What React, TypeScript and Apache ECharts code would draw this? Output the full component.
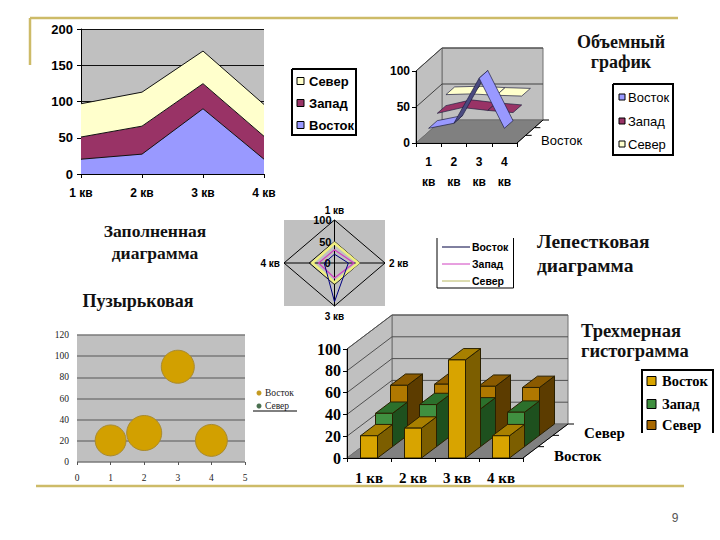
import React, { useEffect, useRef } from "react";
import * as echarts from "echarts";

const quarters = ["1 кв", "2 кв", "3 кв", "4 кв"];
const east = [20.4, 27.4, 90, 20.4];
const west = [30.6, 38.6, 34.6, 31.6];
const north = [45.9, 46.9, 45, 43.9];
const bubbleX = [1, 2, 3, 4];
const bubbleSizes = [31, 35, 33, 32];
const radarLevels = [100, 50];

const SANS = "'Liberation Sans', Arial, sans-serif";
const SERIF = "'Liberation Serif', 'Times New Roman', serif";
const GOLD = "#CDBB68";
const WALL = "#C0C0C0";
const FLOOR = "#808080";

const poly = (points: number[][], fill: string, stroke = "#000", lineWidth = 1) => ({
  type: "polygon",
  shape: { points },
  style: { fill, stroke, lineWidth },
});
const pline = (points: number[][], stroke = "#000", lineWidth = 1) => ({
  type: "polyline",
  shape: { points },
  style: { fill: "none", stroke, lineWidth },
});
const txt = (
  x: number,
  y: number,
  text: string,
  font: string,
  align = "left",
  fill = "#000"
) => ({
  type: "text",
  x,
  y,
  style: { text, font, fill, textAlign: align, align, textVerticalAlign: "middle", verticalAlign: "middle" },
});

// Walls, floor and wall grid of a 3D box whose front plane is the cartesian grid
const walls = (levels: number[], top: number, dx: number, dy: number, bands: number, gridColor: string) =>
  (_p: any, api: any) => {
    const c0 = api.coord([0, 0]);
    const c3 = api.coord([3, 0]);
    const half = (c3[0] - c0[0]) / 6;
    const l = c0[0] - half;
    const r = c3[0] + half;
    const b = c0[1];
    const t = api.coord([0, top])[1];
    const kids: any[] = [
      poly([[l + dx, b + dy], [r + dx, b + dy], [r + dx, t + dy], [l + dx, t + dy]], WALL, "#707070"),
      poly([[l, b], [l + dx, b + dy], [l + dx, t + dy], [l, t]], WALL, "#707070"),
      poly([[l, b], [r, b], [r + dx, b + dy], [l + dx, b + dy]], FLOOR, "#707070"),
    ];
    levels.forEach((v) => {
      const y = api.coord([0, v])[1];
      kids.push(pline([[l, y], [l + dx, y + dy], [r + dx, y + dy]], gridColor));
    });
    kids.push(pline([[r, b], [r + dx, b + dy]], "#000"));
    for (let i = 1; i <= bands; i++) {
      const px = r + (dx * i) / bands;
      const py = b + (dy * i) / bands;
      kids.push(pline([[px, py], [px + 6, py]], "#000"));
    }
    return { type: "group", children: kids };
  };

const ribbon = (depth: number, color: string, dark: string, dx: number, dy: number) =>
  (_p: any, api: any) => {
    const a = api.coord([api.value(0), api.value(1)]);
    const b = api.coord([api.value(0) + 1, api.value(2)]);
    const fill = api.value(2) - api.value(1) > 20 ? dark : color;
    return poly(
      [
        [a[0] + dx * depth, a[1] + dy * depth],
        [b[0] + dx * depth, b[1] + dy * depth],
        [b[0] + dx * (depth + 1), b[1] + dy * (depth + 1)],
        [a[0] + dx * (depth + 1), a[1] + dy * (depth + 1)],
      ],
      fill,
      "#202040",
      0.7
    );
  };

const bar3d = (depth: number, front: string, topC: string, side: string, dx: number, dy: number, hw: number) =>
  (_p: any, api: any) => {
    const t = api.coord([api.value(0), api.value(1)]);
    const b = api.coord([api.value(0), 0]);
    const ox = dx * depth;
    const oy = dy * depth;
    const l = t[0] - hw + ox;
    const r = t[0] + hw + ox;
    const ty = t[1] + oy;
    const by = b[1] + oy;
    const s = "#2a2000";
    return {
      type: "group",
      children: [
        poly([[r, by], [r + dx, by + dy], [r + dx, ty + dy], [r, ty]], side, s),
        poly([[l, ty], [r, ty], [r + dx, ty + dy], [l + dx, ty + dy]], topC, s),
        poly([[l, by], [r, by], [r, ty], [l, ty]], front, s),
      ],
    };
  };

const radarWeb = (_p: any, api: any) => {
  const pt = (q: number, v: number) =>
    api.coord([[0, v, 0, -v][q], [v, 0, -v, 0][q]]);
  const kids: any[] = [
    pline([pt(0, 100), pt(2, 100)]),
    pline([pt(3, 100), pt(1, 100)]),
  ];
  radarLevels.forEach((v) => {
    kids.push(poly([pt(0, v), pt(1, v), pt(2, v), pt(3, v)], "none", "#000", 1));
  });
  const f = `bold 10px ${SANS}`;
  kids.push(txt(pt(0, 100)[0], pt(0, 100)[1] - 10, quarters[0], f, "center"));
  kids.push(txt(pt(1, 100)[0] + 4, pt(1, 100)[1], quarters[1], f, "left"));
  kids.push(txt(pt(2, 100)[0], pt(2, 100)[1] + 10, quarters[2], f, "center"));
  kids.push(txt(pt(3, 100)[0] - 4, pt(3, 100)[1], quarters[3], f, "right"));
  const g = `bold 11px ${SANS}`;
  kids.push(txt(pt(0, 100)[0] - 3, pt(0, 100)[1], "100", g, "right"));
  kids.push(txt(pt(0, 50)[0] - 3, pt(0, 50)[1], "50", g, "right"));
  kids.push(txt(pt(0, 0)[0] - 4, pt(0, 0)[1], "0", g, "right"));
  return { type: "group", children: kids };
};

const radarLine = (values: number[], color: string, width: number) => (_p: any, api: any) => {
  const pts = values.map((v, q) => api.coord([[0, v, 0, -v][q], [v, 0, -v, 0][q]]));
  return poly(pts, "none", color, width);
};

const boxLegend = (
  pts: number[][],
  items: { name: string; color: string; y: number }[],
  swatchX: number,
  size: number,
  textX: number,
  font: string
) => [
  { type: "polyline", shape: { points: pts }, style: { fill: "#fff", stroke: "#000", lineWidth: 2 } },
  ...items.flatMap((it) => [
    {
      type: "rect",
      shape: { x: swatchX, y: it.y - size / 2, width: size, height: size },
      style: { fill: it.color, stroke: "#000", lineWidth: 1 },
    },
    txt(textX, it.y, it.name, font),
  ]),
];

const hLine = (x1: number, y1: number, x2: number, y2: number) => ({
  type: "line",
  shape: { x1, y1, x2, y2 },
  style: { stroke: GOLD, lineWidth: 2.5 },
});

const title = (x: number, y: number, text: string, size: number, align = "center") =>
  txt(x, y, text, `bold ${size}px ${SERIF}`, align, "#111");

function buildOption(): any {
  const axisLineBlack = { show: true, lineStyle: { color: "#000", width: 1 } };
  const tick = { show: true, length: 4, lineStyle: { color: "#000" } };
  const sansBold = { fontFamily: SANS, fontWeight: "bold", fontSize: 12, color: "#000" };
  const serifBold = { fontFamily: SERIF, fontWeight: "bold", color: "#000" };
  const serifSmall = { fontFamily: SERIF, fontSize: 9.5, color: "#222" };

  const LDX = 26 / 3;
  const LDY = -23 / 3;
  const BDX = 15;
  const BDY = -34 / 3;

  const seq = (v: number[]) => v.map((y, i) => [i, y]);
  const segs = (v: number[]) => v.slice(0, 3).map((y, i) => [i, y, v[i + 1]]);

  return {
    animation: false,
    backgroundColor: "#fff",
    grid: [
      { left: 81, top: 29, width: 183, height: 145, show: true, backgroundColor: WALL, borderWidth: 0 },
      { left: 416, top: 71, width: 101, height: 72, show: false },
      { left: 284, top: 220, width: 101, height: 86, show: true, backgroundColor: WALL, borderWidth: 0 },
      { left: 77, top: 335, width: 168, height: 127, show: true, backgroundColor: WALL, borderWidth: 0 },
      { left: 347, top: 349, width: 176, height: 109, show: false },
    ],
    xAxis: [
      {
        gridIndex: 0, type: "category", data: quarters, boundaryGap: false, z: 5,
        axisLine: axisLineBlack, axisTick: tick,
        axisLabel: { ...sansBold, margin: 13, interval: 0, hideOverlap: false },
      },
      {
        gridIndex: 1, type: "category", data: quarters, z: 5,
        axisLine: axisLineBlack, axisTick: tick,
        axisLabel: { ...sansBold, margin: 9, lineHeight: 20, interval: 0, formatter: (v: string) => v.replace(" ", "\n") },
      },
      { gridIndex: 2, type: "value", min: -100, max: 100, show: false },
      {
        gridIndex: 3, type: "value", min: 0, max: 5, interval: 1,
        axisLine: { show: false }, axisTick: { show: true, length: 3, lineStyle: { color: "#555" } },
        splitLine: { show: false },
        axisLabel: { ...serifSmall, margin: 11 },
      },
      {
        gridIndex: 4, type: "category", data: quarters, z: 5,
        axisLine: axisLineBlack, axisTick: tick,
        axisLabel: { ...serifBold, fontSize: 15, margin: 12, interval: 0 },
      },
    ],
    yAxis: [
      {
        gridIndex: 0, type: "value", min: 0, max: 200, interval: 50,
        axisLine: axisLineBlack, axisTick: tick,
        splitLine: { show: true, lineStyle: { color: "#111", width: 1 } },
        axisLabel: { ...sansBold, fontSize: 13, margin: 8 },
      },
      {
        gridIndex: 1, type: "value", min: 0, max: 100, interval: 50, z: 5,
        axisLine: axisLineBlack, axisTick: tick, splitLine: { show: false },
        axisLabel: { ...sansBold, margin: 6 },
      },
      { gridIndex: 2, type: "value", min: -100, max: 100, show: false },
      {
        gridIndex: 3, type: "value", min: 0, max: 120, interval: 20,
        axisLine: { show: false }, axisTick: { show: false },
        splitLine: { show: true, lineStyle: { color: "#7a7a7a", width: 1.5 } },
        axisLabel: { ...serifSmall, margin: 8 },
      },
      {
        gridIndex: 4, type: "value", min: 0, max: 100, interval: 20, z: 5,
        axisLine: axisLineBlack, axisTick: tick, splitLine: { show: false },
        axisLabel: { ...serifBold, fontSize: 16, margin: 6, padding: [6, 0, 0, 0] },
      },
    ],
    series: [
      // Filled area chart
      ...[
        { name: "Восток", data: east, color: "#9999FF" },
        { name: "Запад", data: west, color: "#993366" },
        { name: "Север", data: north, color: "#FFFFCC" },
      ].map((s) => ({
        type: "line", name: s.name, data: s.data, stack: "area", xAxisIndex: 0, yAxisIndex: 0,
        showSymbol: false, symbol: "none",
        lineStyle: { color: "#111", width: 1 }, areaStyle: { color: s.color, opacity: 1 },
        itemStyle: { color: s.color },
      })),
      // 3D line chart
      {
        type: "custom", name: "walls-line", xAxisIndex: 1, yAxisIndex: 1, z: 1, data: [[0, 0]],
        renderItem: walls([50, 100], 100, 26, -23, 3, "#404040"),
      },
      {
        type: "custom", name: "Север", xAxisIndex: 1, yAxisIndex: 1, data: segs(north),
        renderItem: ribbon(2, "#FFFFCC", "#FFFFCC", LDX, LDY), encode: { x: 0, y: 1 },
      },
      {
        type: "custom", name: "Запад", xAxisIndex: 1, yAxisIndex: 1, data: segs(west),
        renderItem: ribbon(1, "#993366", "#993366", LDX, LDY), encode: { x: 0, y: 1 },
      },
      {
        type: "custom", name: "Восток", xAxisIndex: 1, yAxisIndex: 1, data: segs(east),
        renderItem: ribbon(0, "#9999FF", "#4A4A80", LDX, LDY), encode: { x: 0, y: 1 },
      },
      // Radar chart
      { type: "custom", name: "web", xAxisIndex: 2, yAxisIndex: 2, data: [[0, 0]], renderItem: radarWeb },
      { type: "custom", name: "Север", xAxisIndex: 2, yAxisIndex: 2, data: [[0, 0]], renderItem: radarLine(north, "#EFEF80", 2.5) },
      { type: "custom", name: "Запад", xAxisIndex: 2, yAxisIndex: 2, data: [[0, 0]], renderItem: radarLine(west, "#D040C0", 1.2) },
      { type: "custom", name: "Восток", xAxisIndex: 2, yAxisIndex: 2, data: [[0, 0]], renderItem: radarLine(east, "#000080", 1) },
      // Bubble chart
      {
        type: "scatter", name: "Восток", xAxisIndex: 3, yAxisIndex: 3,
        data: bubbleX.map((x, i) => [x, east[i], bubbleSizes[i]]),
        symbolSize: (v: number[]) => v[2],
        itemStyle: { color: "#D2A000", borderColor: "#A88A30", borderWidth: 1, opacity: 1 },
      },
      // 3D bars
      {
        type: "custom", name: "walls-bar", xAxisIndex: 4, yAxisIndex: 4, z: 1, data: [[0, 0]],
        renderItem: walls([20, 40, 60, 80, 100], 100, 45, -34, 3, "#505050"),
      },
      {
        type: "custom", name: "Север", xAxisIndex: 4, yAxisIndex: 4, data: seq(north), encode: { x: 0, y: 1 },
        renderItem: bar3d(2, "#B07800", "#8A5A00", "#5C3C00", BDX, BDY, 8.5),
      },
      {
        type: "custom", name: "Запад", xAxisIndex: 4, yAxisIndex: 4, data: seq(west), encode: { x: 0, y: 1 },
        renderItem: bar3d(1, "#409040", "#2C702C", "#1E501E", BDX, BDY, 8.5),
      },
      {
        type: "custom", name: "Восток", xAxisIndex: 4, yAxisIndex: 4, data: seq(east), encode: { x: 0, y: 1 },
        renderItem: bar3d(0, "#D8A400", "#A88000", "#7C5E00", BDX, BDY, 8.5),
      },
    ],
    graphic: {
      elements: [
        hLine(30, 18, 678, 18),
        hLine(30, 18, 30, 65),
        hLine(36, 486, 684, 486),
        txt(675, 518, "9", `12px ${SANS}`, "center", "#555"),
        title(155, 231, "Заполненная", 17.5),
        title(155, 253, "диаграмма", 17.5),
        title(138, 301, "Пузырьковая", 18),
        title(621, 42, "Объемный", 18),
        title(621, 62, "график", 18),
        title(537, 241, "Лепестковая", 19.5, "left"),
        title(537, 265, "диаграмма", 19.5, "left"),
        title(581, 331, "Трехмерная", 18.5, "left"),
        title(581, 350.5, "гистограмма", 18.5, "left"),
        ...boxLegend(
          [[292, 69], [356, 69], [356, 135], [292, 135], [292, 69]],
          [
            { name: "Север", color: "#FFFFCC", y: 81 },
            { name: "Запад", color: "#993366", y: 103 },
            { name: "Восток", color: "#9999FF", y: 125 },
          ],
          297, 7, 309, `bold 13px ${SANS}`
        ),
        ...boxLegend(
          [[613, 84], [673, 84], [673, 155], [613, 155], [613, 84]],
          [
            { name: "Восток", color: "#9999FF", y: 97 },
            { name: "Запад", color: "#993366", y: 121 },
            { name: "Север", color: "#FFFFCC", y: 144 },
          ],
          619, 6, 628, `13px ${SANS}`
        ),
        ...boxLegend(
          [[642, 433], [642, 370], [713, 370], [713, 433]],
          [
            { name: "Восток", color: "#D8A400", y: 381 },
            { name: "Запад", color: "#409040", y: 404 },
            { name: "Север", color: "#A86800", y: 425 },
          ],
          647, 9, 662, `bold 14.5px ${SERIF}`
        ),
        { type: "polyline", shape: { points: [[437, 238], [437, 288], [513.5, 288], [513.5, 238]] }, style: { fill: "none", stroke: "#000", lineWidth: 1 } },
        ...[
          { name: "Восток", color: "#000040", y: 247 },
          { name: "Запад", color: "#D040C0", y: 264 },
          { name: "Север", color: "#B8B860", y: 281 },
        ].flatMap((it) => [
          { type: "line", shape: { x1: 442, y1: it.y, x2: 470, y2: it.y }, style: { stroke: it.color, lineWidth: 1 } },
          txt(472, it.y, it.name, `bold 10.5px ${SANS}`),
        ]),
        ...[
          { name: "Восток", color: "#C49A20", y: 393 },
          { name: "Север", color: "#4A7050", y: 406 },
        ].flatMap((it) => [
          { type: "circle", shape: { cx: 259, cy: it.y, r: 2.5 }, style: { fill: it.color } },
          txt(265, it.y, it.name, `9.5px ${SERIF}`, "left", "#222"),
        ]),
        { type: "line", shape: { x1: 253, y1: 411, x2: 297, y2: 411 }, style: { stroke: "#000", lineWidth: 1 } },
        txt(541, 140, "Восток", `13px ${SANS}`),
        txt(584, 433, "Север", `bold 15px ${SERIF}`),
        txt(554, 456, "Восток", `bold 15px ${SERIF}`),
      ],
    },
  };
}

export default function App() {
  const ref = useRef<HTMLDivElement>(null);
  useEffect(() => {
    const chart = echarts.init(ref.current, undefined, { renderer: "svg" });
    chart.setOption(buildOption());
    return () => chart.dispose();
  }, []);
  return <div ref={ref} style={{ position: "absolute", left: 0, top: 0, width: 720, height: 540 }} />;
}
